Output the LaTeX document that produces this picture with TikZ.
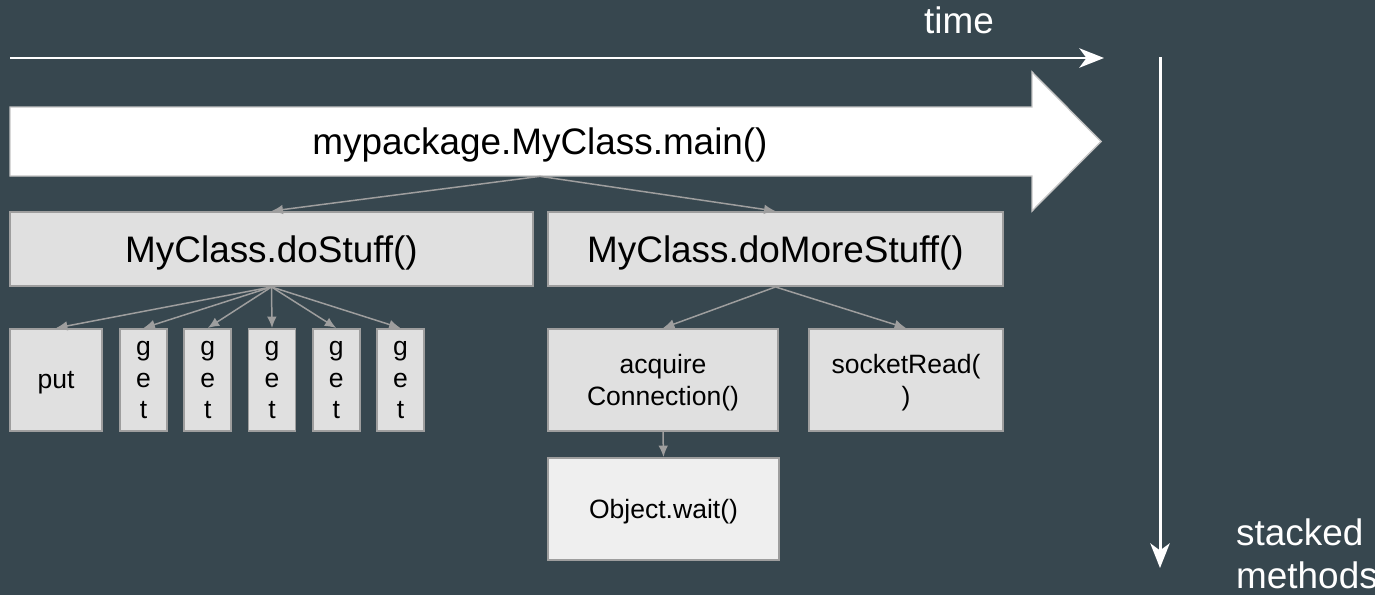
\documentclass[tikz,border=0pt]{standalone}
\usepackage{fontspec}
\setmainfont{Liberation Sans}
\usetikzlibrary{arrows.meta}
\definecolor{slate}{HTML}{37474F}
\definecolor{boxgray}{HTML}{E0E0E0}
\definecolor{waitgray}{HTML}{EFEFEF}
\definecolor{edgegray}{HTML}{9E9E9E}
\definecolor{mainedge}{HTML}{C4C4C4}
\begin{document}
\begin{tikzpicture}[x=0.02cm,y=-0.02cm,
    bigfont/.style={font=\fontsize{21}{24}\selectfont},
    box/.style={draw=edgegray,line width=1.1pt,fill=boxgray,inner sep=0pt,bigfont,text depth=0pt,minimum height=1.48cm},
    leaf/.style={draw=edgegray,line width=1.1pt,fill=boxgray,inner sep=0pt,align=center,text depth=0pt,
        font=\fontsize{15.1}{18}\selectfont,minimum height=2.04cm},
    link/.style={draw=edgegray,line width=0.85pt,-{Latex[length=6.5pt,width=5.5pt]}},
    axis/.style={white,line width=1.7pt,-{Stealth[length=14pt,width=11pt,inset=4pt]}}]
    \useasboundingbox (0,0) rectangle (1375,595);
    \fill[slate] (0,0) rectangle (1375,595);
    \coordinate (t0) at (10,58);
    \coordinate (t1) at (1104,58);
    \coordinate (s0) at (1160,57);
    \coordinate (s1) at (1160,568);
    \draw[axis] (t0) -- (t1);
    \draw[axis] (s0) -- (s1);
    \node[anchor=base,white,bigfont] (time) at (959,33) {time};
    \node[anchor=base west,align=left,white,bigfont] (stacked) at (1230,588) {stacked\\methods};
    \draw[draw=mainedge,fill=white,line width=0.8pt] (10,107) -- (1032,107) -- (1032,72) -- (1101,141.5)
        -- (1032,211) -- (1032,176) -- (10,176) -- cycle;
    \node[bigfont,inner sep=0pt,text depth=0pt,minimum height=1.38cm] (main) at (540,141.5) {mypackage.MyClass.main()};
    \node[box,minimum width=10.46cm] (dostuff) at (271.5,249) {MyClass.doStuff()};
    \node[box,minimum width=9.1cm] (domore) at (775.5,249) {MyClass.doMoreStuff()};
    \node[leaf,minimum width=1.84cm] (put) at (56,380) {put};
    \foreach \i in {1,...,5}
    {
        \node[leaf,minimum width=0.94cm] (get\i) at ({143.5+64.25*(\i-1)},380) {g\\e\\t};
    }
    \node[leaf,minimum width=4.6cm] (acquire) at (663,380) {acquire\\Connection()};
    \node[leaf,minimum width=3.88cm] (socket) at (906,380) {socketRead(\\)};
    \node[leaf,fill=waitgray,minimum width=4.62cm] (wait) at (663.5,509) {Object.wait()};
    \draw[link] (main.south) -- (dostuff.north);
    \draw[link] (main.south) -- (domore.north);
    \draw[link] (dostuff.south) -- (put.north);
    \foreach \i in {1,...,5}
    {
        \draw[link] (dostuff.south) -- (get\i.north);
    }
    \draw[link] (domore.south) -- (acquire.north);
    \draw[link] (domore.south) -- (socket.north);
    \draw[link] (acquire.south) -- (wait.north);
\end{tikzpicture}
\end{document}
